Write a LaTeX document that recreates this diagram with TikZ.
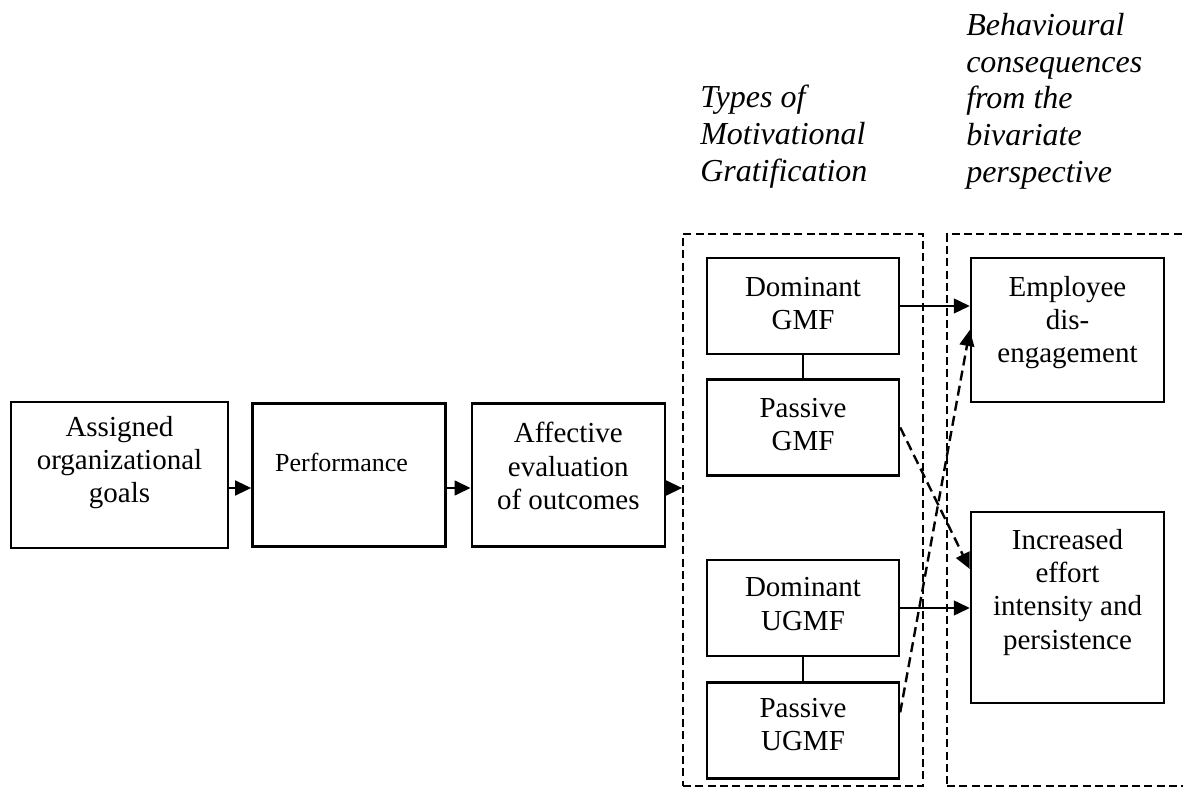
\documentclass[tikz,border=0pt]{standalone}
\usepackage{fontspec}
\setmainfont{Liberation Serif}
\usetikzlibrary{positioning, arrows.meta}

% text block pinned to the top of a box: [top pad]{height}{width}{lines}
\newcommand{\boxtext}[4][13.5pt]{\parbox[c][#2][t]{#3}{\centering\vspace*{#1}#4}}

\begin{document}
\begin{tikzpicture}[x=0.75pt, y=-0.75pt,
    blk/.style={draw, line width=1.8pt, inner sep=0pt, fill=white,
        font={\fontsize{21.75pt}{25pt}\selectfont}},
    groupbox/.style={draw, line width=1.25pt, dash pattern=on 6pt off 3.25pt,
        minimum width=#1, minimum height=414pt, inner sep=0pt},
    headtxt/.style={anchor=north west, align=left, inner sep=0pt,
        font={\fontsize{24pt}{27.5pt}\selectfont\itshape}},
    arr/.style={line width=1.8pt, -{Triangle[length=12pt, width=11pt]}},
    darr/.style={arr, dash pattern=on 7.5pt off 4pt},
    link/.style={line width=1.8pt}]
    \clip (0,0) rectangle (1183,787);
	\node[blk] (goals) at (119.5,475) {\boxtext[10.5pt]{109.5pt}{162.75pt}{Assigned\\organizational\\goals}};
    \node[blk, right=16.5pt of goals] (perf) {\boxtext[37.5pt]{107.25pt}{144.75pt}{\fontsize{19.5pt}{22pt}\selectfont\hspace*{-11pt}Performance}};
    \node[blk, right=18pt of perf] (affect) {\boxtext[14.25pt]{107.25pt}{144.75pt}{Affective\\evaluation\\of outcomes}};
    \node[groupbox=180pt] (typesbox) at (803,510) {};
    \node[groupbox=204.75pt] (behavbox) at (1083.5,510) {};
    \node[headtxt] (typestitle) at (700,85) {Types of\\Motivational\\Gratification};
    \node[headtxt] (behavtitle) at (966,13) {Behavioural\\consequences\\from the\\bivariate\\perspective};
    \node[blk] (dgmf) at (803,306) {\boxtext[14.25pt]{72pt}{144pt}{Dominant\\GMF}};
    \node[blk, below=17.25pt of dgmf] (pgmf) {\boxtext[14.25pt]{72pt}{144pt}{Passive\\GMF}};
    \node[blk] (dugmf) at (803,608) {\boxtext[13.25pt]{72pt}{144pt}{Dominant\\UGMF}};
    \node[blk, below=18pt of dugmf] (pugmf) {\boxtext[12pt]{72pt}{144pt}{Passive\\UGMF}};
    \node[blk] (emp) at (1067.5,330) {\boxtext{108pt}{144.75pt}{Employee\\dis-\\engagement}};
    \node[blk] (incr) at (1067.5,607.5) {\boxtext[12.75pt]{143.25pt}{144.75pt}{Increased\\effort\\intensity and\\persistence}};
    \coordinate (row) at (0,488);
    \draw[arr] (goals.east |- row) -- (perf.west |- row);
    \draw[arr] (perf.east |- row) -- (affect.west |- row);
    \draw[arr] (affect.east |- row) -- (typesbox.west |- row);
    \draw[link] (dgmf) -- (pgmf);
    \draw[link] (dugmf) -- (pugmf);
    \draw[arr] (dgmf.east) -- (dgmf.east -| emp.west);
    \draw[arr] (dugmf.east) -- (dugmf.east -| incr.west);
    \draw[darr] (pgmf.east) -- ([yshift=28.9pt]incr.west);
    \draw[darr] ([yshift=13.5pt]pugmf.east) -- (emp.west);
\end{tikzpicture}
\end{document}
